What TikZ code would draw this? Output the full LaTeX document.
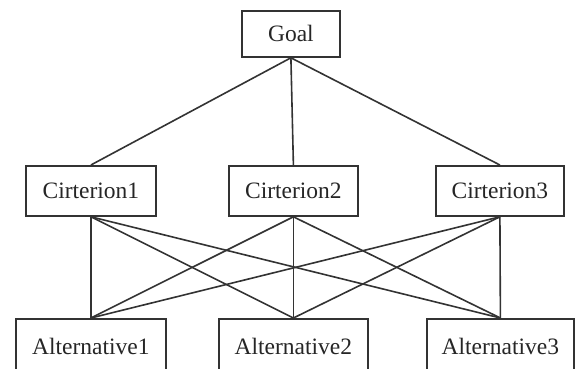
\documentclass[tikz,border=0pt]{standalone}
\usepackage{fontspec}
\setmainfont{Liberation Serif}
\begin{document}
\begin{tikzpicture}[x=1pt,y=1pt,
  box/.style={draw=black!80, line width=1.8pt, fill=white, inner sep=0pt, font=\fontsize{23.5}{26}\selectfont, text=black!85},
  link/.style={draw=black!80, line width=1.6pt}]
\useasboundingbox (0,0) rectangle (575,-369);
\clip (0,0) rectangle (575,-369);
\node[box, minimum width=98pt, minimum height=46pt, anchor=north west] (g) at (241,-10) {Goal};
\node[box, minimum width=130pt, minimum height=50pt, anchor=north west] (c1) at (25,-165) {Cirterion1};
\node[box, minimum width=129pt, minimum height=50pt, anchor=north west] (c2) at (228,-165) {Cirterion2};
\node[box, minimum width=128pt, minimum height=50pt, anchor=north west] (c3) at (435,-165) {Cirterion3};
\node[box, minimum width=150pt, minimum height=56pt, anchor=north west] (a1) at (15,-318) {Alternative1};
\node[box, minimum width=149pt, minimum height=56pt, anchor=north west] (a2) at (218,-318) {Alternative2};
\node[box, minimum width=147pt, minimum height=56pt, anchor=north west] (a3) at (426,-318) {Alternative3};
\foreach \c in {c1,c2,c3} {
  \draw[link] (g.south) -- (\c.north);
  \foreach \a in {a1,a2,a3} {
    \draw[link] (\c.south) -- (\a.north);
  }
}
\end{tikzpicture}
\end{document}
